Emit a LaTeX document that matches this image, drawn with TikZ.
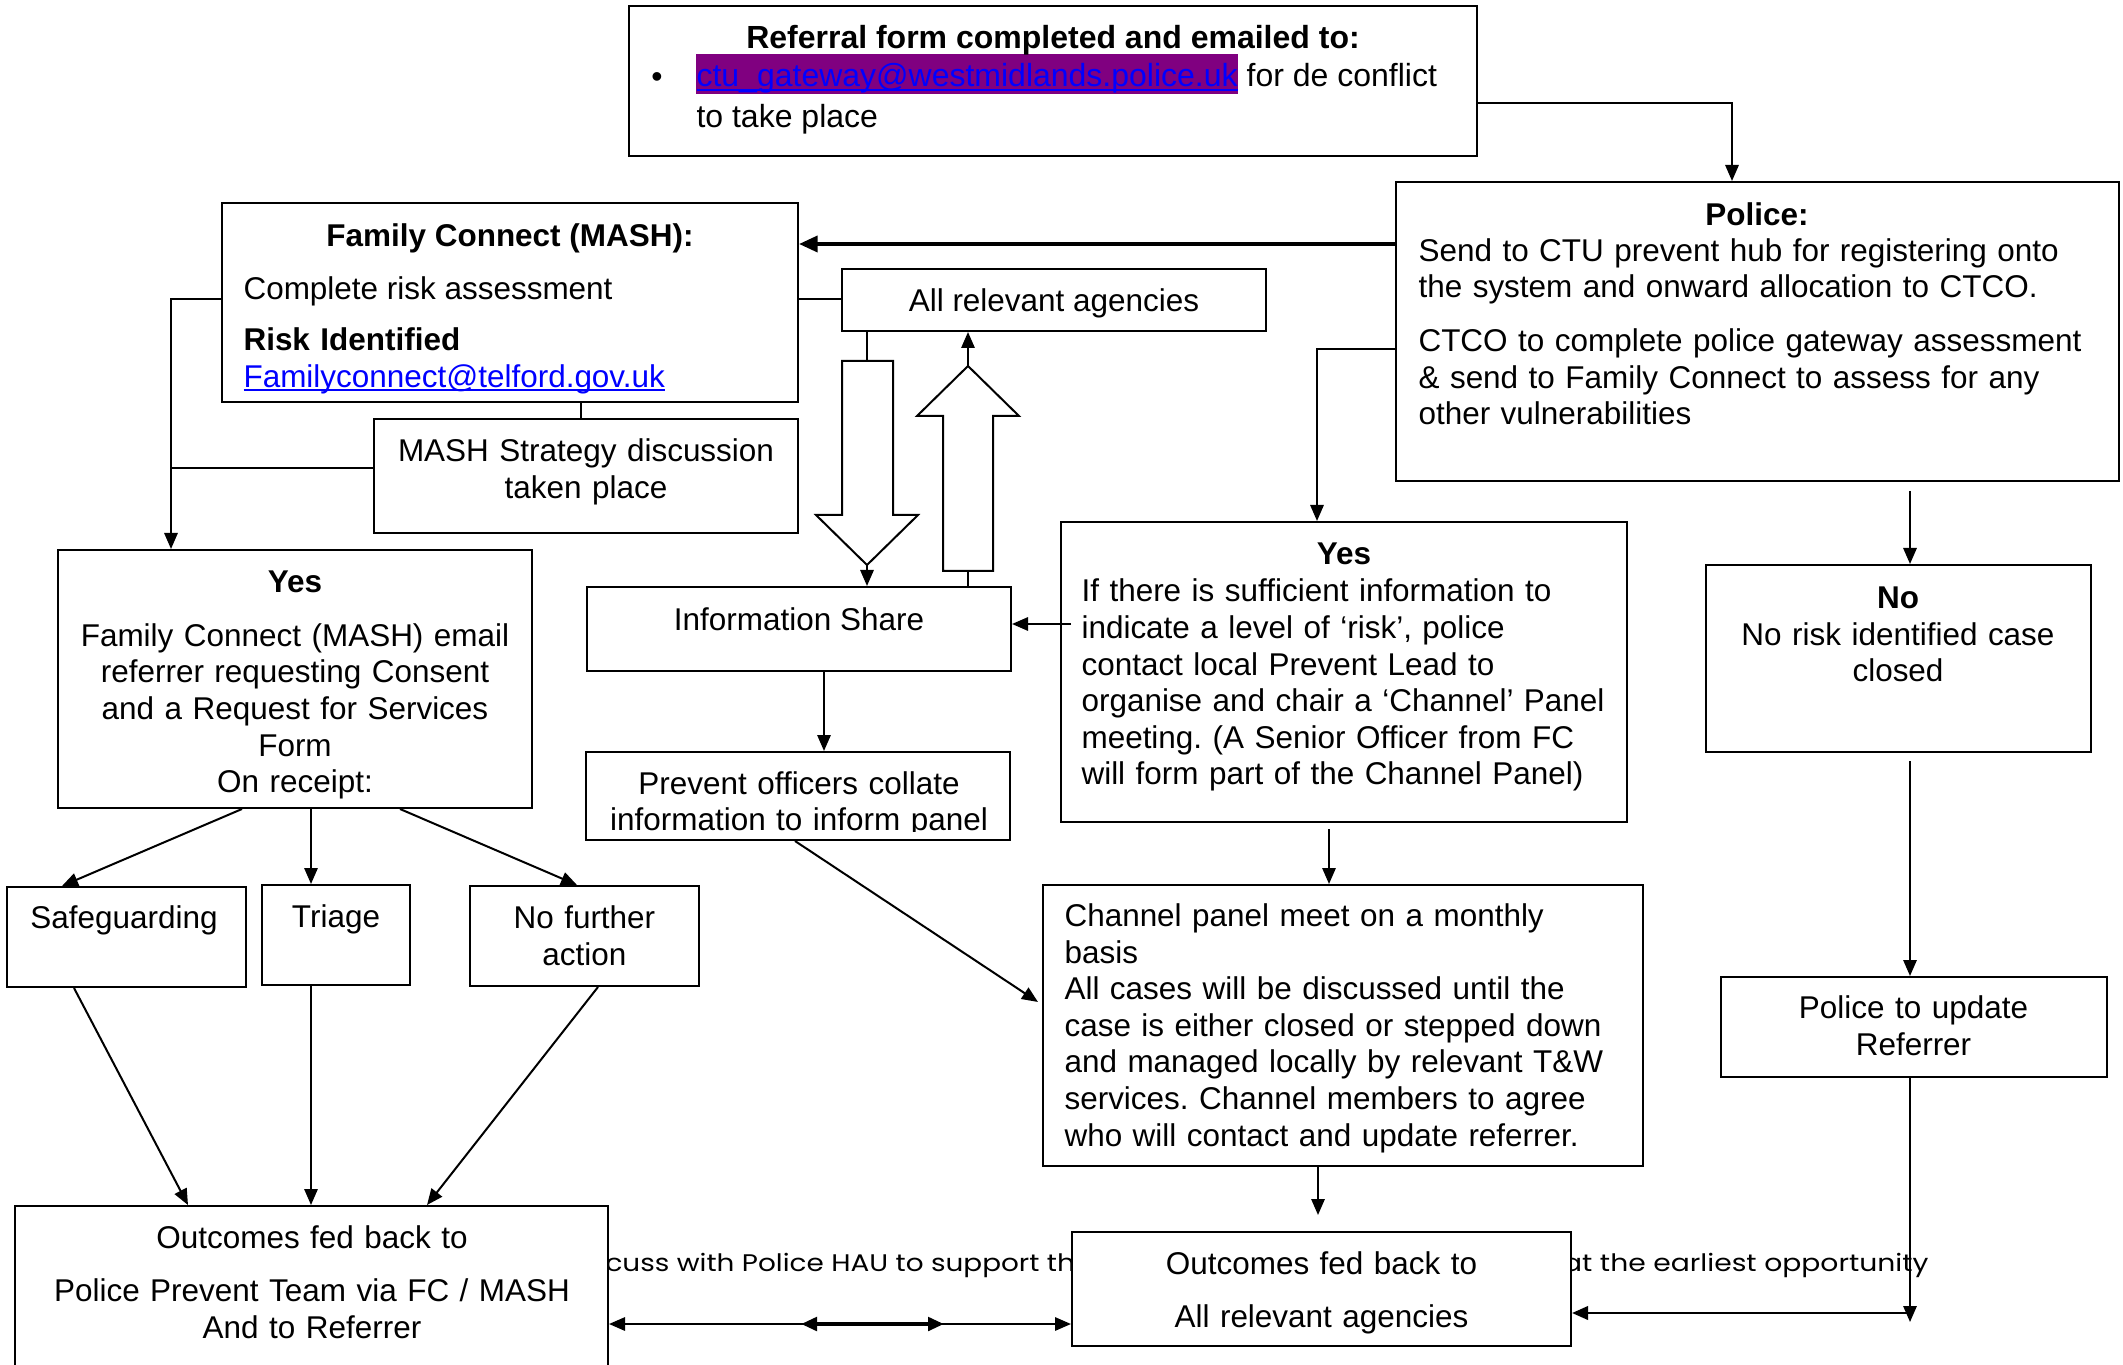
\documentclass[tikz,border=0pt]{standalone}
\usepackage{fontspec}
\setmainfont{Liberation Sans}
\newfontfamily\gothic{Poppins}
\usepackage{graphicx}
\usetikzlibrary{arrows.meta,fit,calc}
\definecolor{linkblue}{RGB}{0,0,255}
\definecolor{hlpurple}{RGB}{128,0,128}
\newsavebox\ulbox
\newcommand\myul[1]{\sbox\ulbox{#1}\rlap{\rule[-1.4pt]{\wd\ulbox}{0.7pt}}\usebox\ulbox}
\frenchspacing
\begin{document}
\begin{tikzpicture}[x=0.375pt,y=-0.375pt,
  box/.style={draw,line width=0.75pt,inner sep=0pt,fill=white},
  txt/.style={inner sep=0pt,font=\fontsize{11.8}{13.725}\selectfont},
  rtxt/.style={inner sep=0pt,font=\fontsize{12}{14}\selectfont},
  ctxt/.style={txt,text width=300pt,align=center,anchor=base},
  ltxt/.style={txt,text width=260pt,align=left,anchor=base west},
  ln/.style={line width=0.75pt},
  Tr/.tip={Triangle[length=6pt,width=5pt]},
  ar/.style={ln,-Tr},
  bgtxt/.style={inner sep=0pt,font=\gothic\fontsize{9}{11}\selectfont}]
\useasboundingbox (0,0) rectangle (2123,1365);
\clip (0,0) rectangle (2123,1365);

% background text line (partly hidden by boxes)
\node[bgtxt,anchor=base west] (bg1) at (605,1271) {\resizebox{176pt}{\height}{cuss with Police HAU to support th}};
\node[bgtxt,anchor=base east] (bg2) at (1929,1271) {\resizebox{137pt}{\height}{at the earliest opportunity}};

% boxes
\node[box,fit={(629,6) (1477,156)}] (ref) {};
\node[box,fit={(1396,182) (2119,481)}] (police) {};
\node[box,fit={(222,203) (798,402)}] (fc) {};
\node[box,fit={(842,269) (1266,331)}] (allrel) {};
\node[box,fit={(374,419) (798,533)}] (mash) {};
\node[box,fit={(58,550) (532,808)}] (yesl) {};
\node[box,fit={(587,587) (1011,671)}] (info) {};
\node[box,fit={(586,752) (1010,840)}] (prev) {};
\node[box,fit={(1061,522) (1627,822)}] (yesm) {};
\node[box,fit={(1706,565) (2091,752)}] (no) {};
\node[box,fit={(1043,885) (1643,1166)}] (chan) {};
\node[box,fit={(1721,977) (2107,1077)}] (pur) {};
\node[box,fit={(7,887) (246,987)}] (safe) {};
\node[box,fit={(262,885) (410,985)}] (tri) {};
\node[box,fit={(470,886) (699,986)}] (nfa) {};
\node[box,fit={(15,1206) (608,1400)}] (outl) {};
\node[box,fit={(1072,1232) (1571,1346)}] (outr) {};

% referral box
\fill[hlpurple] (696,54) rectangle (1238,94);
\node[rtxt,anchor=base] (tref1) at (1053,49) {\bfseries Referral form completed and emailed to:};
\node[rtxt,anchor=base] (tbul) at (657,88) {•};
\node[rtxt,anchor=base west] (tref2) at (696,87) {\textcolor{linkblue}{\myul{ctu\_gateway@westmidlands.police.uk}} for de conflict};
\node[rtxt,anchor=base west] (tref3) at (696,128) {to take place};

\begin{scope}[yshift=-0.85pt]
% police
\node[txt,anchor=base] (tpol1) at (1757,223) {\bfseries Police:};
\node[ltxt,text width=275pt] (tpol2) at (1418,259) {Send to CTU prevent hub for registering onto\\the system and onward allocation to CTCO.\\[6.4pt]CTCO to complete police gateway assessment\\\& send to Family Connect to assess for any\\other vulnerabilities};

% family connect
\node[txt,anchor=base] (tfc1) at (510,244) {\bfseries Family Connect (MASH):};
\node[txt,anchor=base west] (tfc2) at (243,297) {Complete risk assessment};
\node[ltxt] (tfc3) at (243,348.6) {\textbf{Risk Identified}\\\textcolor{linkblue}{\myul{Familyconnect@telford.gov.uk}}};

\node[txt,anchor=base] (tall) at (1054,309.6) {All relevant agencies};
\node[ctxt] (tmash) at (586,459.6) {MASH Strategy discussion\\taken place};

\node[txt,anchor=base] (tyesl1) at (295,590) {\bfseries Yes};
\node[ctxt] (tyesl2) at (295,644) {Family Connect (MASH) email\\referrer requesting Consent\\and a Request for Services\\Form\\On receipt:};

\node[txt,anchor=base] (tinfo) at (799,628) {Information Share};

\node[txt,anchor=base] (tyesm1) at (1344,562) {\bfseries Yes};
\node[ltxt,text width=235pt] (tyesm2) at (1081,599.7) {If there is sufficient information to\\indicate a level of ‘risk’, police\\contact local Prevent Lead to\\organise and chair a ‘Channel’ Panel\\meeting. (A Senior Officer from FC\\will form part of the Channel Panel)};

\node[txt,anchor=base] (tno1) at (1898,606.4) {\bfseries No};
\node[ctxt] (tno2) at (1898,643) {No risk identified case\\closed};

\node[ltxt,text width=240pt] (tchan) at (1064,924.3) {Channel panel meet on a monthly\\basis\\All cases will be discussed until the\\case is either closed or stepped down\\and managed locally by relevant T\&W\\services. Channel members to agree\\who will contact and update referrer.};

\node[ctxt] (tpur) at (1913.5,1016.4) {Police to update\\Referrer};
\node[txt,anchor=base] (tsafe) at (124,926.4) {Safeguarding};
\node[txt,anchor=base] (ttri) at (336,925) {Triage};
\node[ctxt] (tnfa) at (584.4,926.4) {No further\\action};
\node[ctxt] (toutl) at (312,1246.5) {Outcomes fed back to\\[6.2pt]Police Prevent Team via FC / MASH\\And to Referrer};
\node[ctxt] (toutr) at (1321.5,1272) {Outcomes fed back to\\[6.1pt]All relevant agencies};
\end{scope}
\begin{scope}
\clip (586,752) rectangle (1010,831);
\node[ctxt] (tprev) at (799,794) {Prevent officers collate\\information to inform panel};
\end{scope}

% connectors
\draw[ar] (ref.east |- 0,103) -| (police.north -| 1732,0);
\draw[line width=1.4pt,-{Triangle[length=7pt,width=6pt]}] (police.west |- 0,244) -- (fc.east |- 0,244);
\draw[ln] (fc.east |- 0,299) -- (allrel.west |- 0,299);
\draw[ar] (fc.west |- 0,299) -| (yesl.north -| 171,0);
\coordinate (jn) at (171,468);
\draw[ln] (mash.west |- 0,468) -- (jn);
\draw[line width=0.5pt] (fc.south -| 581,0) -- (mash.north -| 581,0);

% block arrows
\coordinate (dtop) at (867,361);
\coordinate (dtip) at (867,565);
\draw[ln] (842,361) -- (893,361) -- (893,515) -- (918,515) -- (dtip) -- (816,515) -- (842,515) -- cycle;
\draw[ln] (allrel.south -| dtop) -- (dtop);
\draw[ar] (dtip) -- (info.north -| dtip);
\coordinate (ubot) at (968,571);
\coordinate (utip) at (968,366);
\draw[ln] (943,571) -- (943,416) -- (917,416) -- (utip) -- (1019,416) -- (993,416) -- (993,571) -- cycle;
\draw[ln] (info.north -| ubot) -- (ubot);
\draw[ar] (utip) -- (allrel.south -| utip);

\draw[ar] (police.west |- 0,349) -| (yesm.north -| 1317,0);
\draw[ar] ($(yesm.west |- 0,624)+(11,0)$) -- (info.east |- 0,624);
\draw[ar] ($(police.south -| 1910,0)+(0,9)$) -- (no.north -| 1910,0);
\draw[ar] ($(no.south -| 1910,0)+(0,8)$) -- (pur.north -| 1910,0);
\coordinate (pend) at (1910,1322);
\draw[ar] (pur.south -| pend) -- (pend);
\coordinate (pj) at (1910,1313);
\draw[line width=1pt,-Tr] (pj) -- (outr.east |- pj);

\draw[ar] (info.south -| 824,0) -- (prev.north -| 824,0);
\draw[ar] (prev.south -| 795,0) -- ($(chan.west |- 0,1002)+(-4,0)$);
\draw[ar] ($(yesm.south -| 1329,0)+(0,6)$) -- (chan.north -| 1329,0);
\draw[ar] (chan.south -| 1318,0) -- ($(outr.north -| 1318,0)+(0,-16)$);

\draw[ar] (yesl.south -| 242,0) -- (safe.north -| 62,0);
\draw[ar] (yesl.south -| 311,0) -- (tri.north -| 311,0);
\draw[ar] (yesl.south -| 400,0) -- (nfa.north -| 577,0);
\draw[ar] (safe.south -| 74,0) -- (outl.north -| 188,0);
\draw[ar] (tri.south -| 311,0) -- (outl.north -| 311,0);
\draw[ar] (nfa.south -| 598,0) -- (outl.north -| 427,0);

\draw[ln,Tr-Tr] (outl.east |- 0,1324) -- (outr.west |- 0,1324);
\coordinate (m1) at (801,1324);
\coordinate (m2) at (944,1324);
\draw[line width=1.5pt,Tr-Tr] (m1) -- (m2);
\end{tikzpicture}
\end{document}
